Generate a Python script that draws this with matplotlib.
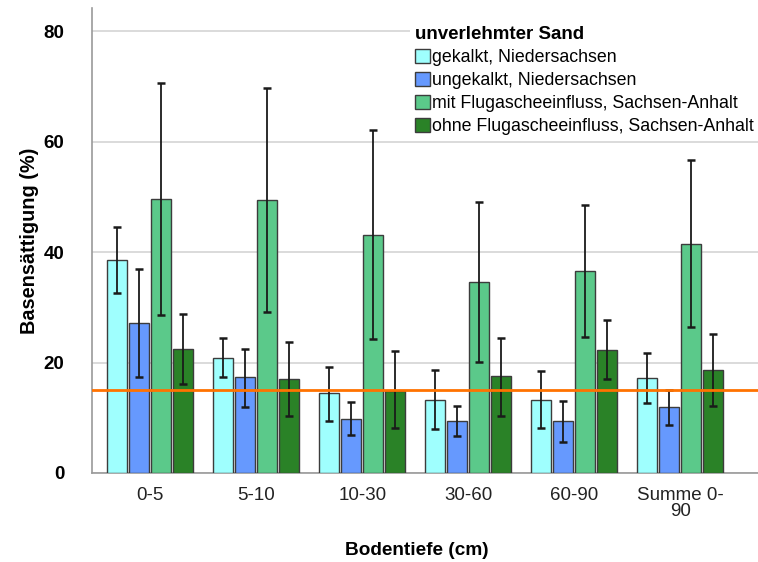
import numpy as np
import matplotlib
matplotlib.use("Agg")
import matplotlib.pyplot as plt
from matplotlib.patches import Patch

plt.rcParams['font.family'] = ['Liberation Sans', 'DejaVu Sans']

categories = ['0-5', '5-10', '10-30', '30-60', '60-90', 'Summe 0-\n90']
series = ['gekalkt, Niedersachsen',
          'ungekalkt, Niedersachsen',
          'mit Flugascheeinfluss, Sachsen-Anhalt',
          'ohne Flugascheeinfluss, Sachsen-Anhalt']

# mean values per series
means = [
    [38.5, 20.9, 14.4, 13.3, 13.3, 17.2],
    [27.1, 17.3, 9.8, 9.4, 9.4, 11.9],
    [49.6, 49.4, 43.1, 34.5, 36.6, 41.5],
    [22.4, 17.1, 14.9, 17.5, 22.3, 18.6],
]
# error bar upper / lower ends
err_hi = [
    [44.5, 24.4, 19.2, 18.6, 18.5, 21.7],
    [37.0, 22.4, 12.9, 12.1, 13.1, 15.1],
    [70.7, 69.7, 62.1, 49.0, 48.5, 56.6],
    [28.8, 23.8, 22.0, 24.4, 27.7, 25.2],
]
err_lo = [
    [32.5, 17.3, 9.5, 8.0, 8.1, 12.6],
    [17.3, 12.0, 6.9, 6.7, 5.6, 8.6],
    [28.6, 29.1, 24.3, 20.1, 24.7, 26.5],
    [16.1, 10.4, 8.1, 10.4, 17.0, 12.1],
]
reference_line = 15.0

colors = ['#9ffffe', '#6699fe', '#5bc98a', '#2a8227']

fig = plt.figure(figsize=(7.58, 5.62), dpi=100)
ax = fig.add_axes([0.1214, 0.1584, 0.878, 0.8274])

x = np.arange(len(categories))
step = 0.2075
width = 0.19
for i in range(len(series)):
    pos = x + (i - 1.5) * step
    m = np.array(means[i])
    yerr = [m - np.array(err_lo[i]), np.array(err_hi[i]) - m]
    ax.bar(pos, m, width, color=colors[i], edgecolor='#3c3c3c',
           linewidth=1.0, zorder=3)
    ax.errorbar(pos, m, yerr=yerr, fmt='none', ecolor='#1a1a1a',
                elinewidth=1.3, capsize=3, capthick=1.8, zorder=4)

ax.axhline(reference_line, color='#ff7200', linewidth=2, zorder=5)

ax.set_xlim(-0.55, 5.73)
ax.set_ylim(0, 84.2)
ax.set_yticks([0, 20, 40, 60, 80])
ax.yaxis.grid(True, color='#d4d4d4', linewidth=1.2, zorder=0)
ax.set_axisbelow(True)
ax.set_xticks(x)
ax.set_xticklabels(categories, fontsize=13.5, color='#222222', linespacing=0.95)
for lab in ax.get_yticklabels():
    lab.set_fontweight('bold')
    lab.set_fontsize(13.5)
ax.tick_params(axis='y', length=0, pad=20)
ax.tick_params(axis='x', length=0, pad=10)

for s in ['top', 'right']:
    ax.spines[s].set_visible(False)
ax.spines['left'].set_color('#9a9a9a')
ax.spines['bottom'].set_color('#9a9a9a')
ax.spines['left'].set_linewidth(1.2)
ax.spines['bottom'].set_linewidth(1.2)

ax.set_xlabel('Bodentiefe (cm)', fontsize=13.7, fontweight='bold')
ax.xaxis.set_label_coords(0.488, -0.149)
ax.set_ylabel('Basensättigung (%)', fontsize=14.3, fontweight='bold', labelpad=3)

handles = [Patch(facecolor=c, edgecolor='#3c3c3c') for c in colors]
leg = ax.legend(handles, series, title='unverlehmter Sand',
                loc='upper left', bbox_to_anchor=(0.541, 0.963),
                bbox_transform=fig.transFigure, fontsize=12.8,
                title_fontproperties={'weight': 'bold', 'size': 13.5},
                alignment='left', frameon=True, edgecolor='none',
                facecolor='white', framealpha=1, fancybox=False,
                handlelength=0.8, handleheight=0.8, handletextpad=0.15,
                labelspacing=0.34, borderpad=0.3, borderaxespad=0)
leg.set_zorder(10)

fig.savefig('out.png', dpi=100)
